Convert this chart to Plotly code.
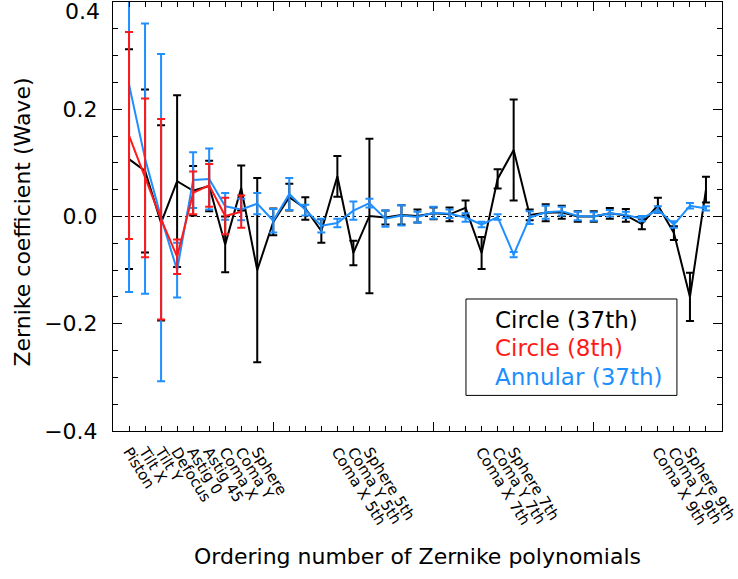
import plotly.graph_objects as go

# ---- data ----
terms = list(range(1, 38))

circle37 = [0.107, 0.085, -0.012, 0.066, 0.048, 0.057, -0.052, 0.053, -0.100, -0.010,
            0.036, 0.015, -0.027, 0.075, -0.068, 0.001, -0.002, 0.003, 0.001, 0.006,
            0.004, 0.016, -0.068, 0.070, 0.124, 0.003, 0.007, 0.008, 0.000, 0.000,
            0.006, 0.002, -0.014, 0.021, -0.031, -0.150, 0.050]
circle37_err = [0.205, 0.152, 0.182, 0.160, 0.046, 0.047, 0.052, 0.042, 0.172, 0.025,
                0.025, 0.021, 0.022, 0.038, 0.023, 0.144, 0.013, 0.018, 0.012, 0.011,
                0.013, 0.014, 0.030, 0.018, 0.094, 0.010, 0.016, 0.012, 0.010, 0.010,
                0.010, 0.012, 0.010, 0.014, 0.013, 0.045, 0.024]

terms8 = list(range(1, 9))
circle8 = [0.151, 0.072, -0.005, -0.075, 0.044, 0.058, 0.001, 0.009]
circle8_err = [0.193, 0.148, 0.187, 0.032, 0.040, 0.040, 0.034, 0.030]

annular37 = [0.246, 0.108, -0.002, -0.100, 0.068, 0.070, 0.019, 0.013, 0.024, -0.008,
             0.042, 0.012, -0.017, -0.012, 0.011, 0.025, -0.004, 0.002, -0.001, 0.007,
             0.005, -0.002, -0.015, -0.001, -0.071, -0.002, 0.008, 0.010, 0.001, 0.000,
             0.006, 0.003, -0.004, 0.013, -0.015, 0.020, 0.015]
annular37_err = [0.387, 0.252, 0.305, 0.051, 0.052, 0.057, 0.025, 0.020, 0.020, 0.022,
                 0.030, 0.010, 0.013, 0.008, 0.017, 0.008, 0.015, 0.019, 0.010, 0.011,
                 0.008, 0.008, 0.005, 0.005, 0.005, 0.012, 0.012, 0.008, 0.008, 0.008,
                 0.006, 0.006, 0.005, 0.006, 0.006, 0.005, 0.004]

label_pos = [1, 2, 3, 4, 5, 6, 7, 8, 9, 14, 15, 16, 23, 24, 25, 34, 35, 36]
label_text = ["Piston", "Tilt X", "Tilt Y", "Defocus", "Astig 0", "Astig 45", "Coma X",
              "Coma Y", "Sphere", "Coma X 5th", "Coma Y 5th", "Sphere 5th",
              "Coma X 7th", "Coma Y 7th", "Sphere 7th", "Coma X 9th", "Coma Y 9th",
              "Sphere 9th"]

y_tickvals = [-0.4, -0.2, 0.0, 0.2, 0.4]
y_ticktext = ["\u22120.4", "\u22120.2", "0.0", "0.2", ""]  # top label drawn below, nudged down
y_top_label = "0.4"

series_names = ["Circle (37th)", "Circle (8th)", "Annular (37th)"]
BLACK, RED, BLUE = "#000000", "#ff1a1a", "#1e8fff"

FONT = "DejaVu Sans"

fig = go.Figure()

def add_series(x, y, err, color, name):
    fig.add_trace(go.Scatter(
        x=x, y=y, mode="lines", name=name, showlegend=False,
        line=dict(color=color, width=2),
        error_y=dict(type="data", array=err, visible=True, color=color,
                     thickness=2, width=4),
        xaxis="x", yaxis="y"))

add_series(terms, circle37, circle37_err, BLACK, series_names[0])
add_series(terms, annular37, annular37_err, BLUE, series_names[2])
add_series(terms8, circle8, circle8_err, RED, series_names[1])

# invisible trace to drive the label axis
fig.add_trace(go.Scatter(x=[0, 38], y=[None, None], xaxis="x2", yaxis="y",
                         showlegend=False, hoverinfo="skip"))

fig.add_shape(type="line", xref="x", yref="y", x0=0, x1=38, y0=0, y1=0,
              line=dict(color="black", width=1, dash="dot"), layer="below")

# top y label, nudged inside the page like the reference
fig.add_annotation(xref="paper", yref="y", x=0, y=y_tickvals[-1], text=y_top_label,
                   showarrow=False, xanchor="right", yanchor="middle",
                   xshift=-11, yshift=-9,
                   font=dict(family=FONT, size=22, color="black"))

# legend box
fig.add_shape(type="rect", xref="paper", yref="paper",
              x0=0.5796, x1=0.926, y0=0.083, y1=0.3077,
              line=dict(color="black", width=1))
for name, color, yy in zip(series_names, [BLACK, RED, BLUE], [0.2587, 0.1935, 0.1259]):
    fig.add_annotation(xref="paper", yref="paper", x=0.624, y=yy, text=name,
                       showarrow=False, xanchor="left", yanchor="middle",
                       font=dict(family=FONT, size=23, color=color))

fig.add_annotation(xref="paper", yref="paper", x=0.5, y=-0.2937,
                   text="Ordering number of Zernike polynomials", showarrow=False,
                   xanchor="center", yanchor="middle",
                   font=dict(family=FONT, size=22, color="black"))
fig.add_annotation(xref="paper", yref="paper", x=-0.1494, y=0.486,
                   text="Zernike coefficient (Wave)", showarrow=False, textangle=-90,
                   xanchor="center", yanchor="middle",
                   font=dict(family=FONT, size=22, color="black"))

fig.update_layout(
    width=738, height=579,
    margin=dict(l=113, r=16, t=2, b=148, autoexpand=False),
    paper_bgcolor="white", plot_bgcolor="white",
    showlegend=False,
    font=dict(family=FONT, color="black"),
    xaxis=dict(range=[0, 38], showgrid=False, zeroline=False, automargin=False,
               showline=True, linecolor="black", linewidth=1, mirror="ticks",
               ticks="inside", ticklen=9, tickwidth=1, tickcolor="black",
               tickvals=[0, 10, 20, 30], showticklabels=False,
               minor=dict(ticks="inside", ticklen=5, tickwidth=1, tickcolor="black",
                          dtick=1, tick0=0, showgrid=False)),
    xaxis2=dict(range=[0, 38], overlaying="x", anchor="y", side="bottom",
                showgrid=False, zeroline=False, showline=False, ticks="",
                automargin=False,
                tickvals=label_pos, ticktext=label_text, tickangle=58,
                tickfont=dict(family=FONT, size=15, color="black"),
                ticklabelstandoff=8, ticklabeloverflow="allow"),
    yaxis=dict(range=[-0.4, 0.4], showgrid=False, zeroline=False, automargin=False,
               showline=True, linecolor="black", linewidth=1, mirror="ticks",
               ticks="inside", ticklen=9, tickwidth=1, tickcolor="black",
               tickvals=y_tickvals, ticktext=y_ticktext,
               tickfont=dict(family=FONT, size=22, color="black"),
               ticklabelstandoff=10, ticklabeloverflow="allow",
               minor=dict(ticks="inside", ticklen=5, tickwidth=1, tickcolor="black",
                          dtick=0.05, tick0=0, showgrid=False)),
)

fig.write_html("out.html")
